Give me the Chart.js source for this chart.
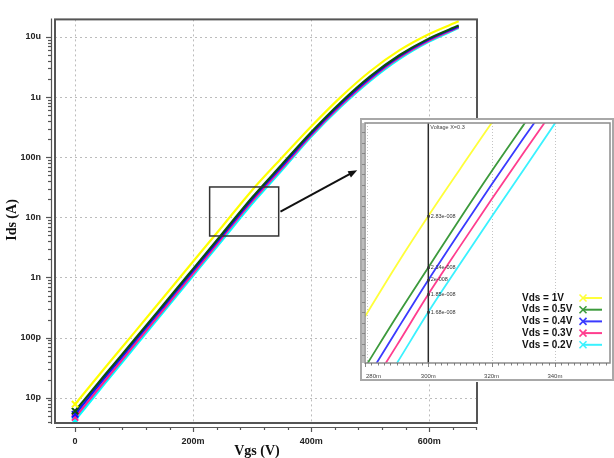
<!DOCTYPE html>
<html>
<head>
<meta charset="utf-8">
<script src="https://cdn.jsdelivr.net/npm/chart.js@4.4.1/dist/chart.umd.min.js"></script>
<style>
  html, body { margin: 0; padding: 0; background: #fff; }
  #wrap { position: relative; width: 614px; height: 458px; overflow: hidden; }
  #main { position: absolute; left: 0; top: 0; }
  #zoom { position: absolute; left: 360px; top: 118px; }
</style>
</head>
<body>
<div id="wrap">
  <canvas id="main" width="614" height="458"></canvas>
  <canvas id="zoom" width="254" height="264"></canvas>
</div>
<script>
// Transfer characteristics Ids(Vgs) for five drain biases
const vgs      = [0, 0.05, 0.10, 0.15, 0.20, 0.25, 0.30, 0.35, 0.40, 0.45, 0.50, 0.55, 0.60, 0.65];
const idsVds1  = [7.8e-12, 3.1e-11, 1.2e-10, 4.7e-10, 1.84e-9, 7.2e-9, 2.83e-8, 9.7e-8, 3.24e-7, 1.0e-6, 2.69e-6, 6.03e-6, 1.12e-5, 1.82e-5];
const idsVds05 = [6.0e-12, 2.36e-11, 9.1e-11, 3.55e-10, 1.39e-9, 5.45e-9, 2.14e-8, 7.5e-8, 2.6e-7, 8.13e-7, 2.21e-6, 5.01e-6, 9.48e-6, 1.55e-5];
const idsVds04 = [5.3e-12, 2.15e-11, 8.4e-11, 3.29e-10, 1.29e-9, 5.08e-9, 2.0e-8, 6.98e-8, 2.45e-7, 7.67e-7, 2.09e-6, 4.79e-6, 9.12e-6, 1.5e-5];
const idsVds03 = [4.7e-12, 1.88e-11, 7.45e-11, 2.94e-10, 1.16e-9, 4.67e-9, 1.85e-8, 6.47e-8, 2.32e-7, 7.24e-7, 1.97e-6, 4.57e-6, 8.71e-6, 1.45e-5];
const idsVds02 = [4.2e-12, 1.7e-11, 6.76e-11, 2.69e-10, 1.07e-9, 4.25e-9, 1.68e-8, 6.0e-8, 2.19e-7, 6.84e-7, 1.86e-6, 4.32e-6, 8.36e-6, 1.41e-5];

// Close-up around Vgs = 300 mV
const zoomVgs      = [0.28, 0.29, 0.30, 0.31, 0.32, 0.33, 0.34, 0.35];
const zoomIdsVds1  = [1.64e-8, 2.17e-8, 2.83e-8, 3.65e-8, 4.69e-8, 5.96e-8, 7.6e-8, 9.7e-8];
const zoomIdsVds05 = [1.244e-8, 1.64e-8, 2.14e-8, 2.79e-8, 3.61e-8, 4.63e-8, 5.92e-8, 7.5e-8];
const zoomIdsVds04 = [1.15e-8, 1.52e-8, 2.0e-8, 2.6e-8, 3.36e-8, 4.31e-8, 5.5e-8, 6.98e-8];
const zoomIdsVds03 = [1.064e-8, 1.40e-8, 1.85e-8, 2.40e-8, 3.10e-8, 3.98e-8, 5.09e-8, 6.47e-8];
const zoomIdsVds02 = [9.66e-9, 1.27e-8, 1.68e-8, 2.18e-8, 2.82e-8, 3.63e-8, 4.68e-8, 6.0e-8];
const cursorVgs = 0.30;

const seriesLabels = ['Vds = 1V', 'Vds = 0.5V', 'Vds = 0.4V', 'Vds = 0.3V', 'Vds = 0.2V'];

const yTickValues = [1e-11, 1e-10, 1e-9, 1e-8, 1e-7, 1e-6, 1e-5];
const yTickLabels = ['10p', '100p', '1n', '10n', '100n', '1u', '10u'];
const xTickValues = [0, 0.2, 0.4, 0.6];
const xTickLabels = ['0', '200m', '400m', '600m'];
const zoomTickValues = [0.28, 0.30, 0.32, 0.34];
const zoomTickLabels = ['280m', '300m', '320m', '340m'];

// Highlighted window on the main plot and the arrow leading to the close-up
const boxVgs = [0.228, 0.345];
const boxIds = [4.9e-9, 3.2e-8];
const arrowVgs = [0.348, 0.478];
const arrowIds = [1.25e-8, 6.1e-8];

const mainColors = ['#ffff00', '#0d4f0d', '#1010ff', '#ff1f8f', '#00ffff'];
const zoomColors = ['#ffff3a', '#3c9a3c', '#3a3aff', '#ff3d8e', '#3af2ff'];

Chart.defaults.font.family = '"Liberation Sans", Arial, sans-serif';

const mainSeries = [idsVds1, idsVds05, idsVds04, idsVds03, idsVds02];
const zoomSeries = [zoomIdsVds1, zoomIdsVds05, zoomIdsVds04, zoomIdsVds03, zoomIdsVds02];

function line(ctx, x1, y1, x2, y2) {
  ctx.beginPath(); ctx.moveTo(x1, y1); ctx.lineTo(x2, y2); ctx.stroke();
}

const mainDecor = {
  id: 'mainDecor',
  beforeDatasetsDraw(chart) {
    const { ctx, chartArea: a, scales: { x, y } } = chart;
    ctx.save();
    ctx.strokeStyle = '#bcbcbc';
    ctx.lineWidth = 1;
    ctx.setLineDash([2, 3]);
    xTickValues.forEach(v => {
      const px = Math.round(x.getPixelForValue(v)) + 0.5;
      line(ctx, px, a.top, px, a.bottom);
    });
    yTickValues.forEach(v => {
      const py = Math.round(y.getPixelForValue(v)) + 0.5;
      line(ctx, a.left, py, a.right, py);
    });
    ctx.restore();
  },
  afterDatasetsDraw(chart) {
    const { ctx, chartArea: a, scales: { x, y } } = chart;
    ctx.save();
    // zoom window
    ctx.strokeStyle = '#333';
    ctx.lineWidth = 1.5;
    const bx1 = x.getPixelForValue(boxVgs[0]), bx2 = x.getPixelForValue(boxVgs[1]);
    const by1 = y.getPixelForValue(boxIds[1]), by2 = y.getPixelForValue(boxIds[0]);
    ctx.strokeRect(bx1, by1, bx2 - bx1, by2 - by1);
    // arrow
    const ax1 = x.getPixelForValue(arrowVgs[0]), ay1 = y.getPixelForValue(arrowIds[0]);
    const ax2 = x.getPixelForValue(arrowVgs[1]), ay2 = y.getPixelForValue(arrowIds[1]);
    const ang = Math.atan2(ay2 - ay1, ax2 - ax1);
    ctx.strokeStyle = '#111';
    ctx.fillStyle = '#111';
    ctx.lineWidth = 2;
    line(ctx, ax1, ay1, ax2 - 6 * Math.cos(ang), ay2 - 6 * Math.sin(ang));
    ctx.beginPath();
    ctx.moveTo(ax2, ay2);
    ctx.lineTo(ax2 - 9 * Math.cos(ang) + 3.5 * Math.sin(ang), ay2 - 9 * Math.sin(ang) - 3.5 * Math.cos(ang));
    ctx.lineTo(ax2 - 9 * Math.cos(ang) - 3.5 * Math.sin(ang), ay2 - 9 * Math.sin(ang) + 3.5 * Math.cos(ang));
    ctx.closePath();
    ctx.fill();

    // plot frame
    ctx.strokeStyle = '#555';
    ctx.lineWidth = 2;
    ctx.strokeRect(a.left, a.top, a.right - a.left, a.bottom - a.top);

    // left axis line with log minor ticks
    const axX = a.left - 4;
    ctx.lineWidth = 1.2;
    ctx.strokeStyle = '#555';
    line(ctx, axX + 0.5, a.top - 1, axX + 0.5, a.bottom + 1);
    for (let d = -12; d <= -5; d++) {
      for (let m = 1; m <= 9; m++) {
        const v = m * Math.pow(10, d);
        if (v < y.min || v > y.max) continue;
        const py = Math.round(y.getPixelForValue(v)) + 0.5;
        const len = m === 1 ? 5 : 3;
        line(ctx, axX - len, py, axX + 0.5, py);
      }
    }
    // bottom axis line with ticks every 40 mV
    const axY = a.bottom + 4;
    line(ctx, a.left + 1, axY + 0.5, a.right, axY + 0.5);
    for (let k = 0; k <= 17; k++) {
      const v = +(k * 0.04).toFixed(2);
      const px = Math.round(x.getPixelForValue(v)) + 0.5;
      const len = (k % 5 === 0) ? 5 : 3;
      line(ctx, px, axY, px, axY + len);
    }

    // axis titles
    ctx.fillStyle = '#111';
    ctx.font = 'bold 14px "Liberation Serif", "Times New Roman", serif';
    ctx.textAlign = 'center';
    ctx.textBaseline = 'middle';
    ctx.fillText('Vgs (V)', 257, 451);
    ctx.translate(12.5, 220);
    ctx.rotate(-Math.PI / 2);
    ctx.fillText('Ids (A)', 0, 0);
    ctx.restore();
  }
};

const mainDatasets = mainSeries.map((vals, i) => ({
  label: seriesLabels[i],
  data: vgs.map((v, j) => ({ x: v, y: vals[j] })),
  borderColor: mainColors[i],
  backgroundColor: mainColors[i],
  borderWidth: 2.2,
  cubicInterpolationMode: 'monotone',
  pointStyle: 'crossRot',
  pointRadius: ctx => (ctx.dataIndex === 0 ? 4.5 : 0),
  pointHoverRadius: 0,
  pointBorderColor: mainColors[i],
  pointBorderWidth: 2,
  order: i,
  fill: false
}));

new Chart(document.getElementById('main'), {
  type: 'line',
  data: { datasets: mainDatasets },
  options: {
    responsive: false,
    animation: false,
    devicePixelRatio: 1,
    layout: { padding: { left: 0, top: 11, right: 137, bottom: 0 } },
    plugins: { legend: { display: false }, tooltip: { enabled: false } },
    scales: {
      x: {
        type: 'linear', min: -0.034, max: 0.681,
        afterFit(s) { s.height = 35; },
        afterBuildTicks(s) { s.ticks = xTickValues.map(v => ({ value: v })); },
        grid: { display: false, drawTicks: false },
        border: { display: false },
        ticks: {
          autoSkip: false, maxRotation: 0, padding: 13, color: '#222',
          font: { size: 9, weight: 'bold' },
          callback: v => xTickLabels[xTickValues.indexOf(v)]
        }
      },
      y: {
        type: 'logarithmic', min: 3.8e-12, max: 1.96e-5,
        afterFit(s) { s.width = 55; },
        afterBuildTicks(s) { s.ticks = yTickValues.map(v => ({ value: v })); },
        grid: { display: false, drawTicks: false },
        border: { display: false },
        ticks: {
          autoSkip: false, padding: 14, color: '#222',
          font: { size: 9, weight: 'bold' },
          callback: v => yTickLabels[yTickValues.indexOf(v)]
        }
      }
    }
  },
  plugins: [mainDecor]
});

function spiceExp(v) {
  const [m, e] = v.toExponential(2).split('e');
  const exp = parseInt(e, 10);
  const sign = exp < 0 ? '-' : '+';
  return parseFloat(m).toString() + 'e' + sign + String(Math.abs(exp)).padStart(3, '0');
}

const zoomDecor = {
  id: 'zoomDecor',
  beforeDraw(chart) {
    const { ctx, width, height } = chart;
    ctx.save();
    ctx.fillStyle = '#fff';
    ctx.fillRect(0, 0, width, height);
    ctx.restore();
  },
  beforeDatasetsDraw(chart) {
    const { ctx, chartArea: a, scales: { x } } = chart;
    ctx.save();
    ctx.strokeStyle = '#c4c4c4';
    ctx.lineWidth = 1;
    ctx.setLineDash([1, 2]);
    [0.32, 0.34].forEach(v => {
      const px = Math.round(x.getPixelForValue(v)) + 0.5;
      line(ctx, px, a.top, px, a.bottom);
    });
    line(ctx, a.left + 2.5, a.top, a.left + 2.5, a.bottom);
    ctx.restore();
  },
  afterDatasetsDraw(chart) {
    const { ctx, chartArea: a, scales: { x, y }, width, height } = chart;
    ctx.save();
    // cursor
    const cx = x.getPixelForValue(cursorVgs);
    const ci = zoomVgs.indexOf(cursorVgs);
    ctx.strokeStyle = '#2a2a2a';
    ctx.lineWidth = 1.5;
    line(ctx, cx, a.top, cx, a.bottom);
    ctx.fillStyle = '#444';
    ctx.font = '5.5px "Liberation Sans", Arial, sans-serif';
    ctx.textAlign = 'left';
    ctx.textBaseline = 'top';
    ctx.fillText('Voltage X=' + cursorVgs.toFixed(1), cx + 2, a.top + 2);
    ctx.textBaseline = 'middle';
    zoomSeries.forEach(vals => {
      const v = vals[ci];
      const py = y.getPixelForValue(v);
      ctx.fillStyle = '#333';
      ctx.fillRect(cx - 1, py - 1, 2.5, 2.5);
      ctx.fillText(spiceExp(v), cx + 2.5, py);
    });

    // frames
    ctx.strokeStyle = '#8c8c8c';
    ctx.lineWidth = 1.5;
    ctx.strokeRect(a.left, a.top, a.right - a.left, a.bottom - a.top);
    ctx.strokeStyle = '#a8a8a8';
    ctx.lineWidth = 2;
    ctx.strokeRect(1, 1, width - 2, height - 3);
    ctx.strokeStyle = '#bdbdbd';
    ctx.lineWidth = 2;
    line(ctx, a.left - 2, a.top, a.left - 2, a.bottom);

    // y ticks on the left edge
    ctx.strokeStyle = '#777';
    ctx.lineWidth = 0.8;
    for (let k = -330; k <= -280; k++) {
      const v = Math.pow(10, k / 40);
      if (v < y.min || v > y.max) continue;
      const py = Math.round(y.getPixelForValue(v)) + 0.5;
      line(ctx, a.left - 3, py, a.left, py);
    }

    // x ticks every 2 mV
    ctx.strokeStyle = '#666';
    ctx.lineWidth = 0.8;
    for (let k = 0; k <= 38; k++) {
      const v = +(0.28 + k * 0.002).toFixed(3);
      if (v > x.max) break;
      const px = Math.round(x.getPixelForValue(v)) + 0.5;
      const len = (k % 10 === 0) ? 4 : 2.5;
      line(ctx, px, a.bottom, px, a.bottom + len);
    }
    ctx.fillStyle = '#444';
    ctx.font = '6px "Liberation Sans", Arial, sans-serif';
    ctx.textBaseline = 'middle';
    zoomTickValues.forEach((v, i) => {
      const px = x.getPixelForValue(v);
      ctx.textAlign = i === 0 ? 'left' : 'center';
      ctx.fillText(zoomTickLabels[i], i === 0 ? px + 1 : px, a.bottom + 13);
    });

    // legend
    ctx.font = 'bold 10px "Liberation Sans", Arial, sans-serif';
    ctx.textAlign = 'left';
    ctx.textBaseline = 'middle';
    chart.data.datasets.forEach((ds, i) => {
      const ly = 180 + i * 11.7;
      ctx.fillStyle = '#111';
      ctx.fillText(ds.label, 162, ly);
      ctx.strokeStyle = ds.borderColor;
      ctx.lineWidth = 2;
      line(ctx, 223, ly, 242, ly);
      ctx.lineWidth = 1.6;
      line(ctx, 219.5, ly - 3.5, 226.5, ly + 3.5);
      line(ctx, 219.5, ly + 3.5, 226.5, ly - 3.5);
    });
    ctx.restore();
  }
};

const zoomDatasets = zoomSeries.map((vals, i) => ({
  label: seriesLabels[i],
  data: zoomVgs.map((v, j) => ({ x: v, y: vals[j] })),
  borderColor: zoomColors[i],
  backgroundColor: zoomColors[i],
  borderWidth: 1.8,
  cubicInterpolationMode: 'monotone',
  pointRadius: 0,
  pointHoverRadius: 0,
  clip: 0,
  fill: false
}));

new Chart(document.getElementById('zoom'), {
  type: 'line',
  data: { datasets: zoomDatasets },
  options: {
    responsive: false,
    animation: false,
    devicePixelRatio: 1,
    layout: { padding: { left: 5, top: 5, right: 4, bottom: 19 } },
    plugins: { legend: { display: false }, tooltip: { enabled: false } },
    scales: {
      x: { type: 'linear', display: false, min: 0.28, max: 0.3574 },
      y: { type: 'logarithmic', display: false, min: 1.274e-8, max: 4.69e-8 }
    }
  },
  plugins: [zoomDecor]
});
</script>
</body>
</html>
